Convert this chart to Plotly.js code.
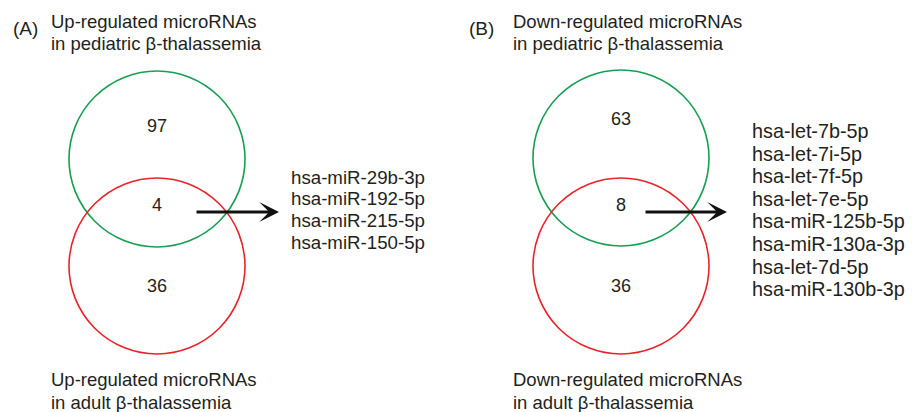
<!DOCTYPE html>
<html>
<head>
<meta charset="utf-8">
<script src="https://cdn.plot.ly/plotly-3.0.1.min.js"></script>
<style>html,body{margin:0;padding:0;background:#fff;}#chart{width:912px;height:412px;}</style>
</head>
<body>
<div id="chart"></div>
<script>
// ---- data ----
const panelLabels = ['(A)', '(B)'];
const topSetLabels = [
  ['Up-regulated microRNAs', 'in pediatric β-thalassemia'],
  ['Down-regulated microRNAs', 'in pediatric β-thalassemia']
];
const bottomSetLabels = [
  ['Up-regulated microRNAs', 'in adult β-thalassemia'],
  ['Down-regulated microRNAs', 'in adult β-thalassemia']
];
const pediatricOnly = [97, 63];
const sharedCount = [4, 8];
const adultOnly = [36, 36];
const sharedUp = ['hsa-miR-29b-3p', 'hsa-miR-192-5p', 'hsa-miR-215-5p', 'hsa-miR-150-5p'];
const sharedDown = ['hsa-let-7b-5p', 'hsa-let-7i-5p', 'hsa-let-7f-5p', 'hsa-let-7e-5p',
  'hsa-miR-125b-5p', 'hsa-miR-130a-3p', 'hsa-let-7d-5p', 'hsa-miR-130b-3p'];
const sharedLists = [sharedUp, sharedDown];

// ---- layout geometry (pixel-like axis units) ----
const FONT = 'Liberation Sans, Arial, sans-serif';
const TXT = '#231f20';
const GREEN = '#14a050';
const RED = '#ea2229';
const geo = [
  {cx: 157, gy: 159, ry: 266, r: 88, yTop: 126, yMid: 204.5, yBot: 285.5,
   panelX: 11.5, labX: 50, arrowX0: 195, arrowX1: 279, arrowY: 212,
   listX: 290, listY0: 177, listDy: 21.7, listSize: 18.7},
  {cx: 621, gy: 158, ry: 266, r: 88, yTop: 119, yMid: 204.5, yBot: 285.5,
   panelX: 467.5, labX: 511.5, arrowX0: 644, arrowX1: 727, arrowY: 212,
   listX: 751, listY0: 131, listDy: 22.6, listSize: 19.8}
];

const shapes = [];
const annotations = [];
function txt(x, y, text, size, anchor) {
  annotations.push({x: x, y: y, xref: 'x', yref: 'y', text: text, showarrow: false,
    xanchor: anchor || 'left', yanchor: 'middle', borderpad: 0,
    font: {family: FONT, size: size, color: TXT}});
}

geo.forEach((g, i) => {
  shapes.push({type: 'circle', xref: 'x', yref: 'y', x0: g.cx - g.r, x1: g.cx + g.r,
    y0: g.gy - g.r, y1: g.gy + g.r, line: {color: GREEN, width: 1.6}});
  shapes.push({type: 'circle', xref: 'x', yref: 'y', x0: g.cx - g.r, x1: g.cx + g.r,
    y0: g.ry - g.r, y1: g.ry + g.r, line: {color: RED, width: 1.6}});
  txt(g.cx, g.yTop, String(pediatricOnly[i]), 18, 'center');
  txt(g.cx, g.yMid, String(sharedCount[i]), 18, 'center');
  txt(g.cx, g.yBot, String(adultOnly[i]), 18, 'center');
  txt(g.panelX, 28.5, panelLabels[i], 19);
  topSetLabels[i].forEach((s, k) => txt(g.labX, 21.5 + k * 21.8, s, 18.5));
  bottomSetLabels[i].forEach((s, k) => txt(g.labX, 379.5 + k * 22.5, s, 18.5));
  sharedLists[i].forEach((s, k) => txt(g.listX, g.listY0 + k * g.listDy, s, g.listSize));
  annotations.push({x: g.arrowX1, y: g.arrowY, ax: g.arrowX0, ay: g.arrowY, axref: 'x', ayref: 'y',
    xref: 'x', yref: 'y', text: '', showarrow: true, arrowhead: 3, arrowsize: 1.1,
    arrowwidth: 3, arrowcolor: '#111', standoff: 0, startstandoff: 0});
});

const layout = {
  width: 912, height: 412,
  margin: {l: 0, r: 0, t: 0, b: 0},
  paper_bgcolor: '#fff', plot_bgcolor: '#fff',
  showlegend: false,
  xaxis: {range: [0, 912], visible: false, fixedrange: true},
  yaxis: {range: [412, 0], visible: false, fixedrange: true},
  shapes: shapes,
  annotations: annotations
};
Plotly.newPlot('chart', [{x: [], y: [], type: 'scatter', mode: 'markers', hoverinfo: 'skip'}], layout,
  {staticPlot: true, displayModeBar: false});
</script>
</body>
</html>
